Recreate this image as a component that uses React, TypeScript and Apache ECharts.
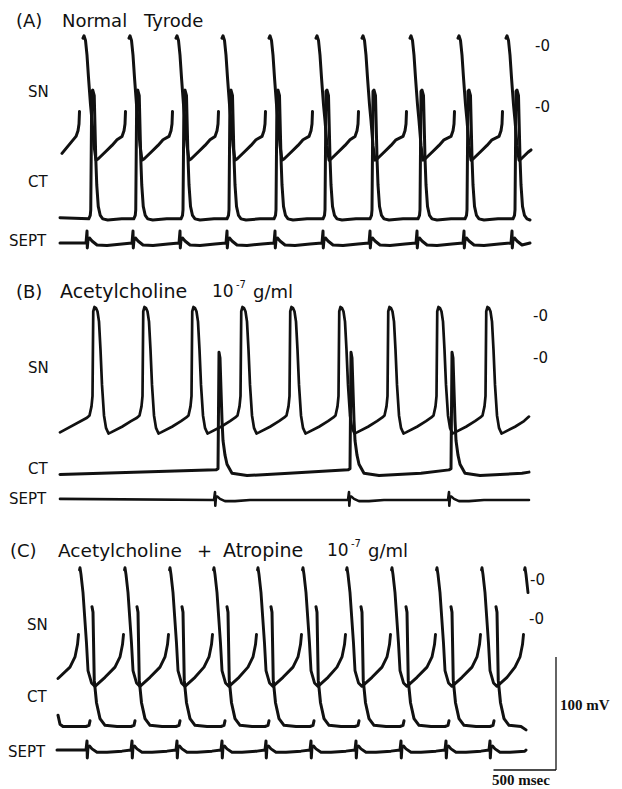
import React, { useEffect, useRef } from "react";
import * as echarts from "echarts";

// ---------- scale of the recording ----------
const MS_PER_PX = 8; // 500 msec bar = 62.5 px
const PX_PER_MV = 1.13; // 100 mV bar = 113 px
const PAGE_W = 622;
const PAGE_H = 789;
const X_MIN_MS = -480; // time at the left page edge (trace start = 0 ms)

type Pt = [number, number | null];

// ---------- (A) Normal Tyrode ----------
const A_SN_PEAKS_MS = [192, 560, 936, 1304, 1680, 2056, 2424, 2808, 3192, 3576];
const A_SN_WAVE: Pt[] = [
  [-64, -80], [-48, -75], [-40, -69], [-36, -58], [-24, null],
  [-8, 7], [0, 9], [12, 5], [24, -8], [36, -28], [52, -52], [64, -66],
  [80, -88], [96, -101], [112, -100], [168, -94], [224, -88], [264, -83],
];
const A_SN_START: Pt[] = [[16, -95]];
const A_SN_END: Pt = [3768, -92];

const A_CT_PEAKS_MS = [254, 614, 992, 1360, 1736, 2128, 2504, 2888, 3264, 3648];
const A_CT_WAVE: Pt[] = [
  [-24, -99], [-12, -96], [-8, -91], [0, 14], [8, 15], [20, 10], [32, -45],
  [40, -69], [52, -88], [68, -96], [88, -99], [128, -100], [240, -99],
];
const A_CT_START: Pt[] = [[0, -98]];
const A_CT_END: Pt = [3760, -100];

const A_SEPT_MS = [216, 584, 960, 1336, 1720, 2104, 2480, 2856, 3232, 3616];
const A_SEPT_WAVE: Pt[] = [
  [-8, 0], [0, 10.6], [2.4, -4.4], [8, 2.7], [20, 4.4], [40, 1.8],
  [80, -1.8], [160, -2.2], [280, -0.9],
];
const A_SEPT_START: Pt[] = [[0, 0]];
const A_SEPT_END: Pt = [3760, 0];

// ---------- (B) Acetylcholine 10^-7 g/ml ----------
const B_SN_PEAKS_MS = [288, 688, 1080, 1472, 1864, 2256, 2648, 3040, 3432];
const B_SN_WAVE: Pt[] = [
  [-72, -90], [-52, -88], [-36, -80], [-28, -71], [-22, 4], [-12, 8], [0, 7],
  [12, 4], [24, -5], [36, -30], [48, -61], [64, -88], [80, -99], [100, -104],
  [120, -103], [208, -98], [280, -93],
];
const B_SN_START: Pt[] = [[0, -103]];
const B_SN_END: Pt = [3752, -89];

const B_CT_PEAKS_MS = [1272, 2328, 3136];
const B_CT_WAVE: Pt[] = [
  [-24, -99], [-8, -98], [0, 5], [8, 0], [16, -28], [24, -55], [32, -73],
  [48, -86], [64, -94], [104, -102], [224, -104], [560, -102],
];
const B_CT_START: Pt[] = [[0, -103]];
const B_CT_END: Pt = [3752, -101];

const B_SEPT_MS = [1240, 2312, 3112];
const B_SEPT_WAVE: Pt[] = [
  [-8, 0], [0, 7], [2.4, -5], [8, 3], [20, 3], [40, 1], [80, -1], [160, -1], [280, 0],
];
const B_SEPT_START: Pt[] = [[0, 1]];
const B_SEPT_END: Pt = [3752, 0];

// ---------- (C) Acetylcholine + Atropine 10^-7 g/ml ----------
const C_SN_PEAKS_MS = [160, 520, 880, 1232, 1584, 1944, 2296, 2656, 3016, 3376, 3720];
const C_SN_WAVE: Pt[] = [
  [-80, -78], [-40, -69], [-20, -58], [-12, -49], [-8, null],
  [-4, 8], [0, 10], [8, 4], [24, -12], [52, -57], [64, -81], [92, -92],
  [120, -95], [200, -87],
];
const C_SN_START: Pt[] = [[-16, -88]];
const C_SN_END: Pt = [3744, -12];

const C_CT_PEAKS_MS = [256, 616, 976, 1336, 1688, 2048, 2408, 2768, 3128, 3488];
const C_CT_WAVE: Pt[] = [
  [-48, -96], [-24, -95], [-16, -91], [-12, null], [0, 10], [8, 5], [18, -55],
  [36, -75], [64, -89], [104, -95], [200, -96],
];
const C_CT_START: Pt[] = [[-16, -86], [0, -94], [24, -96]];
const C_CT_END: Pt = [3728, -99];

const C_SEPT_MS = [216, 576, 936, 1296, 1648, 2008, 2368, 2728, 3088, 3440];
const C_SEPT_WAVE: Pt[] = [
  [-8, 0], [0, 8], [2.4, -7], [8, 3], [20, 3.5], [40, 1], [80, -2], [160, -2], [280, -1],
];
const C_SEPT_START: Pt[] = [[-24, 0]];
const C_SEPT_END: Pt = [3728, 0];

// scale bar
const SCALE_MV = 100;
const SCALE_MS = 500;

function buildTrace(lead: Pt[], events: number[], wave: Pt[], end: Pt): Pt[] {
  const pts: Pt[] = lead.map((p) => [p[0], p[1]] as Pt);
  const t0 = lead[lead.length - 1][0];
  for (const t of events) {
    for (const [dt, v] of wave) {
      const x = t + dt;
      if (x > t0 && x < end[0]) pts.push([x, v]);
    }
  }
  pts.push(end);
  return pts;
}

type Trace = { data: Pt[]; zeroPx: number; lo: number; hi: number; width: number };

const TRACES: Trace[] = [
  { data: buildTrace(A_SN_START, A_SN_PEAKS_MS, A_SN_WAVE, A_SN_END), zeroPx: 46, lo: -125, hi: 25, width: 3 },
  { data: buildTrace(A_CT_START, A_CT_PEAKS_MS, A_CT_WAVE, A_CT_END), zeroPx: 107, lo: -125, hi: 25, width: 3 },
  { data: buildTrace(A_SEPT_START, A_SEPT_MS, A_SEPT_WAVE, A_SEPT_END), zeroPx: 243, lo: -20, hi: 20, width: 3 },
  { data: buildTrace(B_SN_START, B_SN_PEAKS_MS, B_SN_WAVE, B_SN_END), zeroPx: 316, lo: -125, hi: 25, width: 2.7 },
  { data: buildTrace(B_CT_START, B_CT_PEAKS_MS, B_CT_WAVE, B_CT_END), zeroPx: 358, lo: -125, hi: 25, width: 3 },
  { data: buildTrace(B_SEPT_START, B_SEPT_MS, B_SEPT_WAVE, B_SEPT_END), zeroPx: 500, lo: -20, hi: 20, width: 2.6 },
  { data: buildTrace(C_SN_START, C_SN_PEAKS_MS, C_SN_WAVE, C_SN_END), zeroPx: 579, lo: -125, hi: 25, width: 2.9 },
  { data: buildTrace(C_CT_START, C_CT_PEAKS_MS, C_CT_WAVE, C_CT_END), zeroPx: 618, lo: -125, hi: 25, width: 3 },
  { data: buildTrace(C_SEPT_START, C_SEPT_MS, C_SEPT_WAVE, C_SEPT_END), zeroPx: 750, lo: -20, hi: 20, width: 3 },
];

const INK = "#111";
const SANS = '"DejaVu Sans", "Liberation Sans", sans-serif';
const SERIF = '"Liberation Serif", "DejaVu Serif", serif';

function txt(text: string, x: number, y: number, size: number, extra: any = {}) {
  return {
    type: "text",
    x,
    y,
    silent: true,
    style: {
      text,
      fill: INK,
      fontSize: size,
      fontFamily: SANS,
      verticalAlign: "middle",
      align: "left",
      ...extra,
    },
  };
}

function buildOption() {
  const grid: any[] = [];
  const xAxis: any[] = [];
  const yAxis: any[] = [];
  const series: any[] = [];
  TRACES.forEach((tr, i) => {
    grid.push({
      left: 0,
      width: PAGE_W,
      top: tr.zeroPx - tr.hi * PX_PER_MV,
      height: (tr.hi - tr.lo) * PX_PER_MV,
      containLabel: false,
      outerBoundsMode: "none",
    });
    xAxis.push({
      type: "value",
      gridIndex: i,
      min: X_MIN_MS,
      max: X_MIN_MS + PAGE_W * MS_PER_PX,
      show: false,
    });
    yAxis.push({ type: "value", gridIndex: i, min: tr.lo, max: tr.hi, show: false });
    series.push({
      type: "line",
      xAxisIndex: i,
      yAxisIndex: i,
      data: tr.data,
      showSymbol: false,
      symbol: "none",
      connectNulls: false,
      silent: true,
      lineStyle: { color: INK, width: tr.width, join: "round", cap: "round" },
    });
  });

  const barX = 556;
  const barBottom = 770;
  const barTop = barBottom - SCALE_MV * PX_PER_MV;
  const barLeft = barX - SCALE_MS / MS_PER_PX;

  const graphic: any[] = [
    // titles
    txt("(A)", 16, 20, 18),
    txt("Normal", 62, 20, 18),
    txt("Tyrode", 144, 20, 18),
    txt("(B)", 16, 291, 18),
    txt("Acetylcholine", 60, 291, 19),
    txt("10", 212, 291, 17),
    txt("-7", 236, 284, 10),
    txt("g/ml", 253, 291, 18),
    txt("(C)", 10, 550, 18),
    txt("Acetylcholine", 58, 550, 18.5),
    txt("+", 197, 550, 18),
    txt("Atropine", 223, 550, 19),
    txt("10", 327, 550, 17),
    txt("-7", 351, 543, 10),
    txt("g/ml", 368, 550, 18),
    // trace labels
    txt("SN", 28, 92, 15),
    txt("CT", 28, 182, 15),
    txt("SEPT", 9, 241, 15),
    txt("SN", 28, 368, 15),
    txt("CT", 28, 469, 15),
    txt("SEPT", 9, 499, 15),
    txt("SN", 27, 625, 15),
    txt("CT", 27, 697, 15),
    txt("SEPT", 8, 752, 15),
    // zero markers
    txt("-0", 535, 46, 15),
    txt("-0", 535, 107, 15),
    txt("-0", 533, 316, 15),
    txt("-0", 533, 358, 15),
    txt("-0", 530, 580, 15),
    txt("-0", 529, 619, 15),
    // scale bar
    {
      type: "line",
      silent: true,
      shape: { x1: barX, y1: barTop, x2: barX, y2: barBottom },
      style: { stroke: INK, lineWidth: 1.3 },
    },
    {
      type: "line",
      silent: true,
      shape: { x1: barLeft, y1: barBottom, x2: barX, y2: barBottom },
      style: { stroke: INK, lineWidth: 1.3 },
    },
    txt("100 mV", 560, 705, 15, { fontFamily: SERIF, fontWeight: "bold" }),
    txt("500 msec", 492, 780, 15, { fontFamily: SERIF, fontWeight: "bold" }),
  ];

  return {
    animation: false,
    backgroundColor: "#fff",
    grid,
    xAxis,
    yAxis,
    series,
    graphic,
  };
}

export default function App() {
  const ref = useRef<HTMLDivElement | null>(null);
  useEffect(() => {
    if (!ref.current) return;
    const chart = echarts.init(ref.current, undefined, { renderer: "svg" });
    chart.setOption(buildOption() as any);
    return () => chart.dispose();
  }, []);
  return (
    <div
      ref={ref}
      style={{ position: "absolute", left: 0, top: 0, width: PAGE_W, height: PAGE_H, background: "#fff" }}
    />
  );
}
